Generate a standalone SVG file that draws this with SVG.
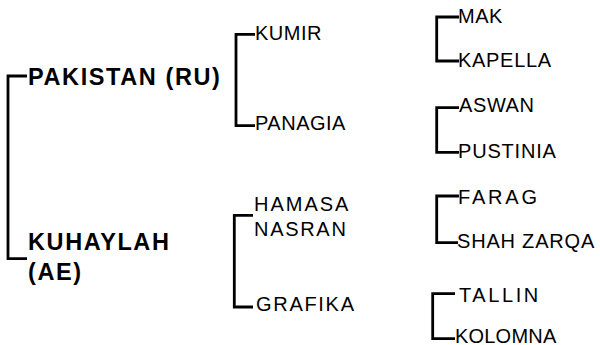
<svg xmlns="http://www.w3.org/2000/svg" width="600" height="345" viewBox="0 0 600 345">
<style>
.b{font-family:"Liberation Sans",Arial,sans-serif;font-weight:bold;font-size:23.5px;letter-spacing:1.6px;fill:#000}
.r{font-family:"Liberation Sans",Arial,sans-serif;font-size:20px;fill:#000}
.c{fill:none;stroke:#000;stroke-width:2.8}
</style>
<rect width="600" height="345" fill="#fff"/>
<g id="connectors" class="c">
<path d="M27,76 H8 V258.7 H27"/>
<path d="M255,34.3 H236 V125.7 H255"/>
<path d="M253,215.3 H234.3 V307 H253"/>
<path d="M459,17 H436.7 V61 H459"/>
<path d="M459,107.7 H436.7 V152.3 H459"/>
<path d="M459,196 H436.7 V242.7 H458"/>
<path d="M455,293.7 H432.7 V338.7 H455"/>
</g>
<g id="pakistan"><text class="b" x="28" y="84.5">PAKISTAN (RU)</text></g>
<g id="kuhaylah"><text class="b" x="28" y="249.5">KUHAYLAH</text><text class="b" x="28" y="279.5">(AE)</text></g>
<g id="kumir"><text class="r" x="255" y="39.5" letter-spacing="0.5">KUMIR</text></g>
<g id="panagia"><text class="r" x="255" y="130" letter-spacing="0.5">PANAGIA</text></g>
<g id="hamasa-nasran"><text class="r" x="254" y="211" letter-spacing="2">HAMASA</text><text class="r" x="254" y="236" letter-spacing="1.7">NASRAN</text></g>
<g id="grafika"><text class="r" x="256" y="311" letter-spacing="1.7">GRAFIKA</text></g>
<g id="mak"><text class="r" x="458" y="23" letter-spacing="0.5">MAK</text></g>
<g id="kapella"><text class="r" x="458" y="67" letter-spacing="0.7">KAPELLA</text></g>
<g id="aswan"><text class="r" x="459" y="112" letter-spacing="0.6">ASWAN</text></g>
<g id="pustinia"><text class="r" x="458" y="158" letter-spacing="0.8">PUSTINIA</text></g>
<g id="farag"><text class="r" x="458" y="204" letter-spacing="2.8">FARAG</text></g>
<g id="shah-zarqa"><text class="r" x="457" y="248" letter-spacing="0.8">SHAH ZARQA</text></g>
<g id="tallin"><text class="r" x="459" y="302" letter-spacing="2.6">TALLIN</text></g>
<g id="kolomna"><text class="r" x="455" y="342.5" letter-spacing="0.2">KOLOMNA</text></g>
</svg>
